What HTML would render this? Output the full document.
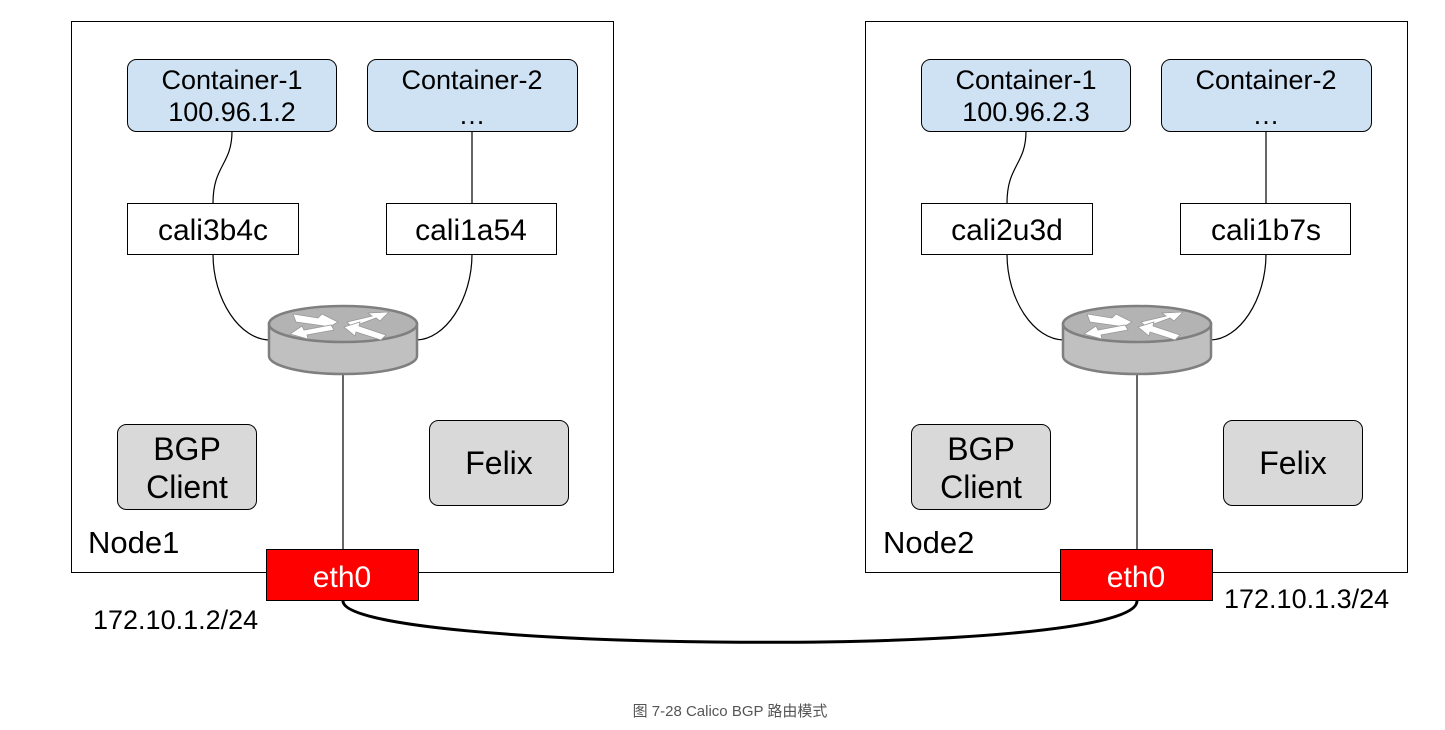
<!DOCTYPE html>
<html><head><meta charset="utf-8"><style>
html,body{margin:0;padding:0;background:#fff;}
svg{display:block;}
text{font-family:"Liberation Sans",Arial,sans-serif;}
</style></head><body>
<svg width="1445" height="730" viewBox="0 0 1445 730" xmlns="http://www.w3.org/2000/svg">
<defs>
<g id="node">
  <rect x="71.5" y="21.5" width="542" height="551" fill="#fff" stroke="#000" stroke-width="1"/>
  <path d="M232,131 C232,165 213,165 213,203" fill="none" stroke="#000" stroke-width="1.2"/>
  <path d="M472,131 L472,203" fill="none" stroke="#000" stroke-width="1.2"/>
  <path d="M213,254 C213,300 240,340 270,340" fill="none" stroke="#000" stroke-width="1.2"/>
  <path d="M472,254 C472,300 445,340 416,340" fill="none" stroke="#000" stroke-width="1.2"/>
  <line x1="343" y1="370" x2="343" y2="550" stroke="#000" stroke-width="1.2"/>
  <rect x="127.5" y="59.5" width="209" height="72" rx="9" fill="#cfe2f3" stroke="#000" stroke-width="1"/>
  <rect x="367.5" y="59.5" width="210" height="72" rx="9" fill="#cfe2f3" stroke="#000" stroke-width="1"/>
  <rect x="127.5" y="203.5" width="171" height="51" fill="#fff" stroke="#000" stroke-width="1"/>
  <rect x="386.5" y="203.5" width="170" height="51" fill="#fff" stroke="#000" stroke-width="1"/>
  <path d="M269,324 L269,356 A74,18 0 0 0 417,356 L417,324 Z" fill="#c0c0c0" stroke="#7f7f7f" stroke-width="2.5"/>
  <ellipse cx="343" cy="324" rx="74" ry="18" fill="#b3b3b3" stroke="#7f7f7f" stroke-width="2.5"/>
  <g fill="#fff" stroke="#999" stroke-width="0.8">
    <polygon points="293,314 318,318 322,314 338,322 324,330 324,326 296,322"/>
    <polygon points="347,322 372,316 368,313 389,312 380,321 376,318 352,327"/>
    <polygon points="290,334 302,326 304,330 331,325 334,330 307,335 308,339"/>
    <polygon points="344,327 360,322 359,326 386,335 381,340 356,332 355,336"/>
  </g>
  <rect x="117.5" y="424.5" width="139" height="85" rx="9" fill="#d9d9d9" stroke="#000" stroke-width="1"/>
  <rect x="429.5" y="420.5" width="139" height="85" rx="9" fill="#d9d9d9" stroke="#000" stroke-width="1"/>
  <rect x="266.5" y="549.5" width="152" height="51" fill="#ff0000" stroke="#000" stroke-width="1"/>
  <g font-size="27" text-anchor="middle" fill="#000">
    <text x="232" y="89">Container-1</text>
    <text x="472" y="89">Container-2</text>
    <text x="472" y="124">…</text>
    <text x="187" y="460" font-size="32">BGP</text>
    <text x="187" y="498" font-size="32">Client</text>
    <text x="499" y="474" font-size="32">Felix</text>
    <text x="342" y="587" font-size="30" fill="#fff">eth0</text>
  </g>
</g>
</defs>
<use href="#node"/>
<use href="#node" transform="translate(794,0)"/>
<g font-size="27" text-anchor="middle" fill="#000">
  <text x="232" y="121">100.96.1.2</text>
  <text x="1026" y="121">100.96.2.3</text>
  <text x="213" y="240" font-size="30">cali3b4c</text>
  <text x="471" y="240" font-size="30">cali1a54</text>
  <text x="1007" y="240" font-size="30">cali2u3d</text>
  <text x="1266" y="240" font-size="30">cali1b7s</text>
</g>
<g font-size="31" fill="#000">
  <text x="88" y="553">Node1</text>
  <text x="883" y="553">Node2</text>
  <text x="93" y="629" font-size="27">172.10.1.2/24</text>
  <text x="1224" y="608" font-size="27">172.10.1.3/24</text>
</g>
<path d="M343,601 C343,652 1137,660 1137,601" fill="none" stroke="#000" stroke-width="3"/>
<text x="730" y="716" font-size="15" fill="#555" text-anchor="middle" style='font-family:"Liberation Sans","Noto Sans CJK SC",sans-serif'>图 7-28 Calico BGP 路由模式</text>
</svg>
</body></html>
